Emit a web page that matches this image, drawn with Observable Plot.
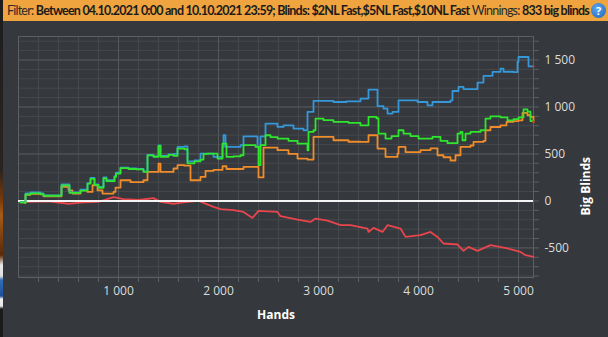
<!DOCTYPE html>
<html>
<head>
<meta charset="utf-8">
<script src="https://cdn.jsdelivr.net/npm/d3@7"></script>
<script src="https://cdn.jsdelivr.net/npm/@observablehq/plot@0.6"></script>
<style>
  html, body { margin: 0; padding: 0; }
  body { width: 608px; height: 337px; overflow: hidden; background: #35383c; position: relative; font-family: "Open Sans", sans-serif; }
  #header { position: absolute; left: 0; top: 0; width: 608px; height: 21px; background: #f0a440; color: #1b1b1b; font-family: Lato, "Open Sans", sans-serif; font-size: 12.5px; line-height: 21px; white-space: nowrap; box-sizing: border-box; padding-left: 7px; }
  #header .lbl { font-weight: 400; color: #2a2a2a; }
  #header .val { font-weight: 700; }
  #help { position: absolute; right: 2px; top: 3px; width: 15px; height: 15px; border-radius: 50%; background: radial-gradient(circle at 40% 35%, #5aa6ee, #1d64b8); color: #fff; font-weight: 700; font-size: 11px; line-height: 15px; text-align: center; font-family: "Open Sans", sans-serif; }
  #strip { position: absolute; left: 0; top: 0; width: 3px; height: 337px; background: linear-gradient(to bottom, #1c1c1e 0px, #2a2420 170px, #7a3a0a 200px, #a85a18 215px, #5a2a08 255px, #e8e8e8 265px, #e0e0e0 276px, #2f6fb8 280px, #1f4f98 296px, #f0f0f0 299px, #e8e8e8 306px, #1a1a1a 309px, #1a1a1a 337px); }
  #chart { position: absolute; left: 0; top: 21px; }
</style>
</head>
<body>
<div id="header"><span id="htext"><span class="lbl">Filter:</span> <span class="val">Between 04.10.2021 0:00 and 10.10.2021 23:59; Blinds: $2NL Fast,$5NL Fast,$10NL Fast</span> <span class="lbl">Winnings:</span> <span class="val">833 big blinds</span></span><div id="help">?</div></div>
<div id="chart"></div>
<div id="strip"></div>
<script>
// ---- data (hands, big blinds) ----
const blueHands = [20,60,70,120,220,250,420,430,500,510,620,690,720,760,800,850,880,960,975,1020,1100,1180,1250,1290,1350,1400,1420,1500,1550,1590,1660,1690,1760,1820,1950,2040,2050,2070,2220,2250,2390,2420,2470,2590,2650,2750,2850,2890,2950,3150,3280,3420,3500,3575,3590,3650,3690,3740,3800,3990,4090,4140,4320,4340,4400,4450,4590,4650,4740,4820,4850,4950,4990,5000,5090,5100,5150];
const blueBB    = [-10,-15,80,90,80,60,60,175,175,90,120,190,245,175,150,250,220,265,300,355,345,340,315,490,475,590,480,495,500,575,580,420,430,504,468,575,699,575,593,688,575,688,823,788,805,770,752,947,1064,1053,1060,1089,1185,1185,1010,983,930,947,1071,1053,1018,1053,1071,1170,1213,1190,1260,1330,1373,1409,1375,1370,1480,1532,1532,1433,1433];

const greenHands = [20,60,70,120,220,250,420,430,500,510,620,690,720,760,800,850,880,960,975,1020,1100,1180,1250,1290,1350,1400,1420,1500,1550,1590,1660,1690,1760,1820,1850,1890,1990,2040,2080,2150,2220,2250,2370,2400,2420,2470,2520,2590,2700,2790,2890,2900,2950,2970,3050,3150,3300,3420,3500,3580,3600,3670,3730,3800,3850,3920,4000,4140,4220,4290,4390,4420,4440,4470,4520,4620,4670,4720,4820,4890,4950,5000,5050,5090,5120,5150];
const greenBB    = [-15,-20,70,80,75,55,55,165,165,85,110,185,235,170,140,240,210,255,290,350,340,335,310,485,470,585,470,490,480,557,550,400,420,440,500,504,451,610,468,475,486,593,575,380,593,699,680,664,640,610,539,734,752,876,860,841,830,805,894,880,717,664,690,752,717,690,664,681,640,615,717,734,646,717,734,752,876,900,890,858,870,890,975,950,850,845];

const orangeHands = [20,60,70,120,220,250,420,430,500,540,620,690,740,790,840,950,970,1020,1120,1250,1290,1400,1420,1550,1590,1660,1720,1820,1870,1950,2040,2080,2250,2400,2450,2590,2700,2790,2890,2950,3150,3300,3420,3500,3575,3590,3670,3790,3800,3870,4020,4120,4190,4250,4320,4370,4420,4520,4550,4650,4670,4720,4820,4880,4950,5000,5040,5090,5120,5150];
const orangeBB    = [-15,-20,65,75,70,50,50,150,113,78,113,96,167,113,78,96,142,220,200,220,309,398,309,345,380,375,220,255,320,330,369,340,362,250,568,540,500,451,440,681,646,630,628,699,699,557,468,504,575,520,540,560,486,465,430,486,575,590,628,640,752,787,805,841,850,858,937,912,894,841];

const redHands = [20,100,300,500,650,800,950,1050,1200,1350,1420,1550,1650,1800,1950,2020,2150,2250,2340,2400,2590,2620,2790,2920,2970,3090,3220,3320,3490,3500,3550,3640,3690,3820,3870,4020,4120,4190,4250,4390,4450,4500,4590,4720,4890,5020,5070,5150];
const redBB    = [-10,-10,-5,-30,-15,-10,40,20,10,30,-10,-30,-15,0,-64,-88,-99,-117,-181,-106,-117,-163,-198,-223,-188,-209,-258,-258,-294,-330,-287,-330,-258,-294,-383,-365,-330,-383,-453,-464,-532,-489,-532,-471,-506,-543,-578,-596];

const xMajorTicks = [1000, 2000, 3000, 4000, 5000];
const yMajorTicks = [-500, 0, 500, 1000, 1500];

const toRows = (hs, vs) => hs.map((h, i) => ({hands: h, bb: vs[i]}));
const blue = toRows(blueHands, blueBB);
const green = toRows(greenHands, greenBB);
const orange = toRows(orangeHands, orangeBB);
const red = toRows(redHands, redBB);

const fmt = d => (d < 0 ? "-" : "") + String(Math.abs(d)).replace(/\B(?=(\d{3})+(?!\d))/g, " ");

const minorX = d3.range(200, 5150, 200);
const minorY = d3.range(-800, 1751, 100);

const chart = Plot.plot({
  width: 608,
  height: 316,
  marginLeft: 18,
  marginRight: 75,
  marginTop: 15,
  marginBottom: 60,
  style: {background: "transparent", color: "#dcdcdc", fontFamily: "'Open Sans', sans-serif", fontSize: "12px"},
  x: {domain: [0, 5150]},
  y: {domain: [-815, 1750]},
  marks: [
    Plot.gridX(minorX, {stroke: "#45484c", strokeOpacity: 1}),
    Plot.gridY(minorY, {stroke: "#45484c", strokeOpacity: 1}),
    Plot.gridX(xMajorTicks, {stroke: "#55585d", strokeOpacity: 1}),
    Plot.gridY(yMajorTicks, {stroke: "#55585d", strokeOpacity: 1}),
    Plot.frame({stroke: "#5c5f64"}),
    Plot.axisX(minorX, {anchor: "bottom", tickSize: 5, tickPadding: 4, stroke: "#5c5f64", fill: "#dcdcdc", tickFormat: d => d % 1000 === 0 ? fmt(d) : "", label: null}),
    Plot.axisY(minorY, {anchor: "right", tickSize: 5, tickPadding: 6, stroke: "#5c5f64", fill: "#dcdcdc", tickFormat: d => d % 500 === 0 ? fmt(d) : "", label: null}),
    Plot.line(red, {x: "hands", y: "bb", stroke: "#e8454d", strokeWidth: 1.8}),
    Plot.ruleY([0], {stroke: "#f4f4f4", strokeWidth: 2}),
    Plot.line(orange, {x: "hands", y: "bb", stroke: "#f08c2a", strokeWidth: 1.8, curve: "step-after"}),
    Plot.line(blue, {x: "hands", y: "bb", stroke: "#3498db", strokeWidth: 1.8, curve: "step-after"}),
    Plot.line(green, {x: "hands", y: "bb", stroke: "#2ee62e", strokeWidth: 1.8, curve: "step-after"}),
    Plot.dot([blue.at(-1), green.at(-1), orange.at(-1)], {x: "hands", y: "bb", r: 1, fill: "#ff2020", stroke: "none"}),
    Plot.text(["Hands"], {frameAnchor: "bottom", dy: 41, fill: "#ffffff", fontWeight: "bold", fontSize: 12}),
    Plot.text(["Big Blinds"], {frameAnchor: "right", dx: 53, rotate: -90, fill: "#ffffff", fontWeight: "bold", fontSize: 12})
  ]
});
document.getElementById("chart").appendChild(chart);

// fit the header text into the width the reference uses (x 7 .. 589)
const ht = document.getElementById("htext");
const target = 582;
const w = ht.getBoundingClientRect().width;
const n = ht.textContent.length;
ht.style.letterSpacing = ((target - w) / n).toFixed(3) + "px";
</script>
</body>
</html>
